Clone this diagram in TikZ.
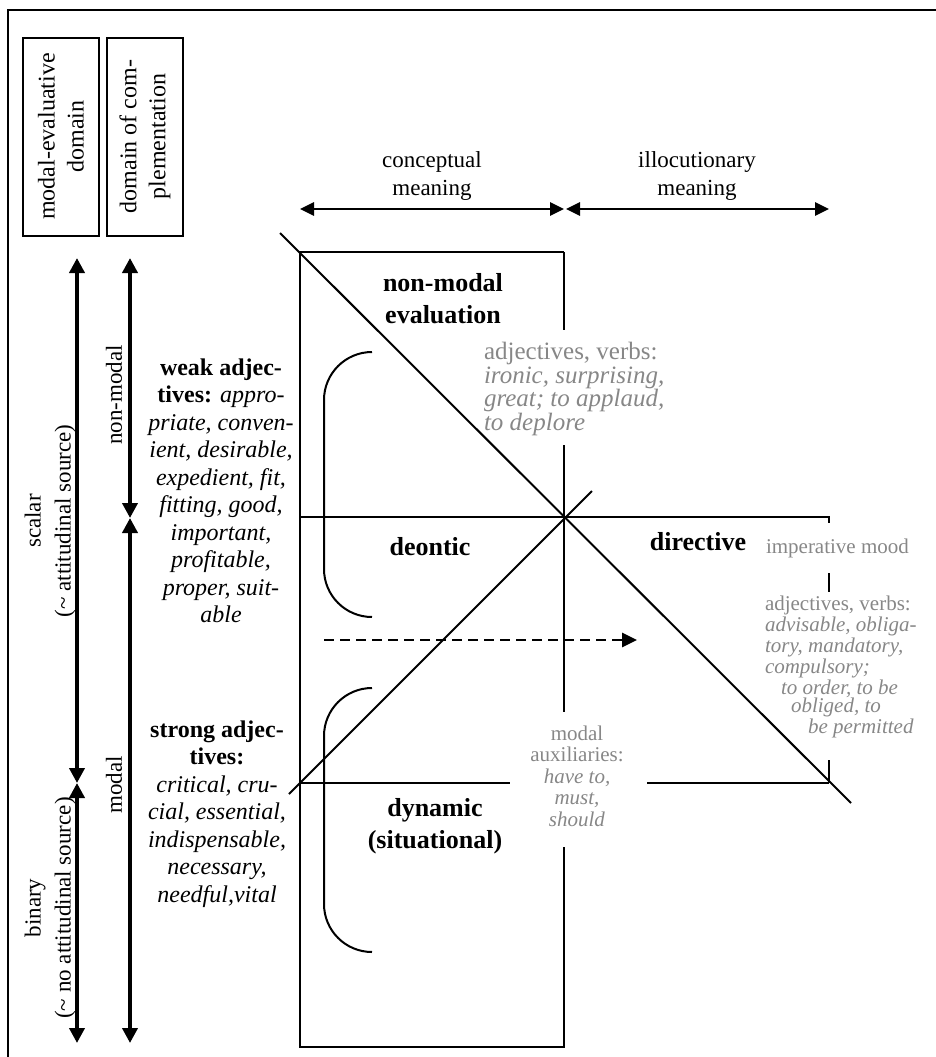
\documentclass[tikz,border=0pt]{standalone}
\usepackage{fontspec}
\setmainfont{Liberation Serif}
\usetikzlibrary{arrows.meta}
\definecolor{auxgray}{RGB}{135,135,135}

\tikzset{
  domainbox/.style={draw,line width=1pt,rotate=90,minimum width=99pt,minimum height=38pt,
    inner sep=0pt,align=center,font=\fontsize{12}{14.5}\selectfont},
  sidelabel/.style={rotate=90,align=center,inner sep=0pt,font=\fontsize{11.5}{15}\selectfont},
  scalearrow/.style={line width=2pt,{Triangle[length=7.5pt,width=7.5pt]}-{Triangle[length=7.5pt,width=7.5pt]}},
  meaningarrow/.style={line width=1.4pt,{Triangle[length=7pt,width=6.5pt]}-{Triangle[length=7pt,width=6.5pt]}},
  region/.style={align=center,inner sep=0pt,font=\fontsize{13}{16}\selectfont\bfseries},
  adjlist/.style={align=center,inner sep=0pt,font=\fontsize{12}{13.75}\selectfont},
  greytext/.style={text=auxgray,inner sep=0pt,font=\fontsize{11}{11.75}\selectfont},
  bracket/.style={line width=1pt,rounded corners=24pt},
}

\begin{document}
\begin{tikzpicture}[x=0.5pt,y=-0.5pt,line width=1pt]
\useasboundingbox (0,0) rectangle (936,1057);
\draw (8,10) rectangle (942,1063);

% domain boxes
\node [domainbox] (evaldomain) at (61,136.5) {modal-evaluative\\domain};
\node [domainbox] (compldomain) at (145,136.5) {domain of com-\\plementation};

% scales on the left
\coordinate (scaletop) at (77,258);
\coordinate (scalemid) at (77,783);
\coordinate (scalebot) at (77,1043);
\coordinate (modaltop) at (130,258);
\coordinate (modalmid) at (130,518);
\coordinate (modalbot) at (130,1043);
\draw [scalearrow] (scaletop) -- (scalemid);
\draw [scalearrow] (scalemid) -- (scalebot);
\draw [scalearrow] (modaltop) -- (modalmid);
\draw [scalearrow] (modalmid) -- (modalbot);
\node [sidelabel] (scalar) at (50,521) {scalar\\(\textasciitilde{} attitudinal source)};
\node [sidelabel] (binary) at (50,908) {binary\\(\textasciitilde{} no attitudinal source)};
\node [sidelabel] (nonmodal) at (114,395) {non-modal};
\node [sidelabel] (modal) at (114,785) {modal};

% adjective lists
\node [adjlist] (weakadj) at (221,491) {\textbf{weak adjec-}\\\textbf{tives:} \textit{appro-}\\
  \textit{priate, conven-}\\\textit{ient, desirable,}\\\textit{expedient, fit,}\\
  \textit{fitting, good,}\\\textit{important,}\\\textit{profitable,}\\
  \textit{proper, suit-}\\\textit{able}};
\node [adjlist] (strongadj) at (217,814) {\textbf{strong adjec-}\\\textbf{tives:}\\
  \textit{critical, cru-}\\\textit{cial, essential,}\\\textit{indispensable,}\\
  \textit{necessary,}\\\textit{needful,vital}};

% conceptual vs. illocutionary
\coordinate (conleft) at (300,209);
\coordinate (conright) at (564,209);
\coordinate (illleft) at (566,209);
\coordinate (illright) at (829,209);
\draw [meaningarrow] (conleft) -- (conright);
\draw [meaningarrow] (illleft) -- (illright);
\node [align=center,inner sep=0pt,font=\fontsize{11.5}{14}\selectfont] (concept) at (432,176) {conceptual\\meaning};
\node [align=center,inner sep=0pt,font=\fontsize{11.5}{14}\selectfont] (illoc) at (697,176) {illocutionary\\meaning};

% frame of the domains
\coordinate (boxtl) at (300,252);
\coordinate (boxtr) at (564,252);
\coordinate (boxbl) at (300,1047);
\coordinate (boxbr) at (564,1047);
\coordinate (cross) at (564,517);
\coordinate (dirend) at (829,517);
\coordinate (lowleft) at (300,783);
\coordinate (lowright) at (829,783);
\draw (boxtr) -- (boxtl) -- (boxbl) -- (boxbr) -- (564,847);
\draw (boxtr) -- (564,330);
\draw (564,445) -- (564,712);
\draw (300,517) -- (dirend) -- (829,523);
\draw (829,573) -- (829,592);
\draw (829,760) -- (lowright);
\draw (lowleft) -- (510,783);
\draw (647,783) -- (lowright);
\draw (280,233) -- (851,803);
\draw (289,794) -- (592,491);

% brackets
\draw [bracket] (372,352) -- (324,352) -- (324,617) -- (372,617);
\draw [bracket] (372,688) -- (324,688) -- (324,952) -- (372,952);

% shift towards the directive
\coordinate (shiftfrom) at (324,640);
\coordinate (shiftto) at (637,640);
\draw [line width=1.4pt,dash pattern=on 5pt off 3pt,-{Triangle[length=7.5pt,width=7pt]}] (shiftfrom) -- (shiftto);

% regions
\node [region] (nonmodaleval) at (443,299) {non-modal\\evaluation};
\node [region] (deontic) at (430,547) {deontic};
\node [region] (directive) at (698,542) {directive};
\node [region] (dynamic) at (435,826) {dynamic\\(situational)};

% grey examples
\node [greytext,anchor=west,align=left,font=\fontsize{12.5}{11.75}\selectfont] (evalverbs) at (483,389) {adjectives, verbs:\\
  \textit{ironic, surprising,}\\\textit{great; to applaud,}\\\textit{to deplore}};
\node [greytext,anchor=west,font=\fontsize{10.5}{12}\selectfont] (imperative) at (765,548) {imperative mood};
\node [greytext,anchor=west,align=left,font=\fontsize{10.5}{9.25}\selectfont] (dirverbs) at (764,667) {adjectives, verbs:\\
  \textit{advisable, obliga-}\\\textit{tory, mandatory,}\\\textit{compulsory;}\\
  \hspace*{8pt}\textit{to order, to be}\\\hspace*{13pt}\textit{obliged, to}\\
  \hspace*{21.5pt}\textit{be permitted}};
\node [greytext,align=center,font=\fontsize{10.5}{10.75}\selectfont] (auxiliaries) at (577,776) {modal\\auxiliaries:\\
  \textit{have to,}\\\textit{must,}\\\textit{should}};
\end{tikzpicture}
\end{document}
